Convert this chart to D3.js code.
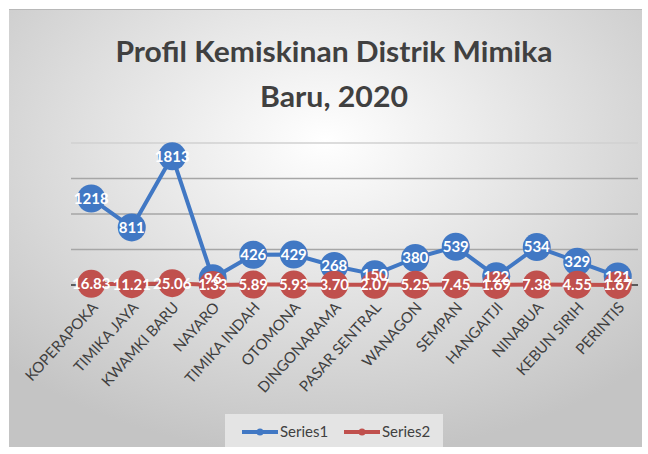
<!DOCTYPE html>
<html><head><meta charset="utf-8">
<script src="https://cdn.jsdelivr.net/npm/d3@7"></script>
<style>body{margin:0;background:#fff}svg{display:block}</style>
</head><body>
<svg id="c" width="648" height="454"></svg>
<script>
const categories = ["KOPERAPOKA","TIMIKA JAYA","KWAMKI BARU","NAYARO","TIMIKA INDAH","OTOMONA","DINGONARAMA","PASAR SENTRAL","WANAGON","SEMPAN","HANGAITJI","NINABUA","KEBUN SIRIH","PERINTIS"];
const series1 = [1218,811,1813,96,426,429,268,150,380,539,122,534,329,121];
const series2 = [16.83,11.21,25.06,1.33,5.89,5.93,3.70,2.07,5.25,7.45,1.69,7.38,4.55,1.67];
const series2Labels = ["16.83","11.21","25.06","1.33","5.89","5.93","3.70","2.07","5.25","7.45","1.69","7.38","4.55","1.67"];
const yTicks = [0,500,1000,1500,2000];
const seriesNames = ["Series1","Series2"];
const colors = ["#4178c4","#c0504d"];

const svg = d3.select("#c");
const defs = svg.append("defs");
const g = defs.append("radialGradient").attr("id","bg").attr("cx","50%").attr("cy","30%").attr("r","72%");
g.append("stop").attr("offset","0%").attr("stop-color","#ffffff");
g.append("stop").attr("offset","100%").attr("stop-color","#c4c4c4");

svg.append("rect").attr("x",9).attr("y",9).attr("width",633).attr("height",438).attr("fill","url(#bg)");
svg.append("line").attr("x1",9).attr("x2",642).attr("y1",9.5).attr("y2",9.5).attr("stroke","#b8b8b8").attr("stroke-width",1);

const x = d3.scalePoint().domain(categories).range([71,638]).padding(0.5);
const y = d3.scaleLinear().domain([0,2000]).range([285,143]);

// gridlines
svg.append("g").selectAll("line").data(yTicks.filter(d=>d>0)).join("line")
  .attr("x1",71).attr("x2",638).attr("y1",d=>y(d)).attr("y2",d=>y(d))
  .attr("stroke", d=> d===2000 ? "#d0d0d0" : "#a6a6a6").attr("stroke-width",1.5);

// x axis
const xAxis = svg.append("g").attr("transform",`translate(0,${y(0)})`).call(d3.axisBottom(x).tickSize(0).tickPadding(0));
xAxis.select(".domain").attr("stroke","#333").attr("stroke-width",1.5).attr("d","M71,0H638");
xAxis.selectAll("text")
  .attr("font-family","Lato, sans-serif").attr("font-size",15).attr("fill","#404040")
  .attr("text-anchor","end").attr("dy",0)
  .attr("transform","translate(7,23) rotate(-48)");

// title
svg.append("text").attr("x",334).attr("y",62).attr("text-anchor","middle")
  .attr("font-family","Lato, sans-serif").attr("font-weight","bold").attr("font-size",29).attr("fill","#404040")
  .attr("textLength",437).attr("lengthAdjust","spacingAndGlyphs")
  .text("Profil Kemiskinan Distrik Mimika");
svg.append("text").attr("x",334).attr("y",107).attr("text-anchor","middle")
  .attr("font-family","Lato, sans-serif").attr("font-weight","bold").attr("font-size",29).attr("fill","#404040")
  .attr("textLength",148).attr("lengthAdjust","spacingAndGlyphs")
  .text("Baru, 2020");

const line = d3.line().x((d,i)=>x(categories[i])).y(d=>y(d));
const all = [series1, series2];
all.forEach((s,k)=>{
  svg.append("path").datum(s).attr("d",line).attr("fill","none").attr("stroke",colors[k]).attr("stroke-width",4).attr("stroke-linejoin","round");
  svg.append("g").selectAll("circle").data(s).join("circle")
    .attr("cx",(d,i)=>x(categories[i])).attr("cy",d=>y(d)).attr("r",14).attr("fill",colors[k]);
});
// labels
const lab1 = series1.map(String);
[lab1, series2Labels].forEach((labs,k)=>{
  svg.append("g").selectAll("text").data(labs).join("text")
    .attr("x",(d,i)=>x(categories[i])).attr("y",(d,i)=>y(all[k][i])).attr("dy","0.36em")
    .attr("text-anchor","middle").attr("font-family","Lato, sans-serif").attr("font-weight","bold")
    .attr("font-size",15).attr("fill","#fff").text(d=>d);
});

// legend
svg.append("rect").attr("x",225).attr("y",414).attr("width",218).attr("height",33).attr("fill","#e4e4e4");
const lx = [242, 344];
seriesNames.forEach((n,k)=>{
  svg.append("line").attr("x1",lx[k]).attr("x2",lx[k]+36).attr("y1",432).attr("y2",432).attr("stroke",colors[k]).attr("stroke-width",4);
  svg.append("circle").attr("cx",lx[k]+18).attr("cy",432).attr("r",3.5).attr("fill",colors[k]);
  svg.append("text").attr("x",lx[k]+38).attr("y",432).attr("dy","0.35em")
    .attr("font-family","Lato, sans-serif").attr("font-size",15).attr("fill","#404040").text(n);
});
</script>
</body></html>
